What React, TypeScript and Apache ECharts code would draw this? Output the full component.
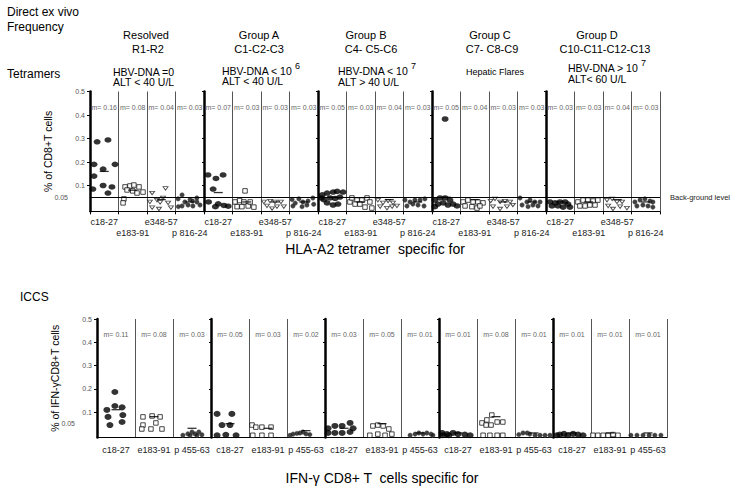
import React, { useEffect, useRef } from 'react';
import * as echarts from 'echarts';

const FONT = '"Liberation Sans", Arial, Helvetica, sans-serif';

// ---------- data ----------
const groups = ['Resolved', 'Group A', 'Group B', 'Group C', 'Group D'];
const groupPatients = ['R1-R2', 'C1-C2-C3', 'C4- C5-C6', 'C7- C8-C9', 'C10-C11-C12-C13'];
const tetEpitopes = ['c18-27', 'e183-91', 'e348-57', 'p 816-24'];
const iccsEpitopes = ['c18-27', 'e183-91', 'p 455-63'];
const yTicks = [0.1, 0.2, 0.3, 0.4, 0.5];
const backgroundLevel = 0.05;

// median value written above each column (m=)
const tetMeans = [0.16, 0.08, 0.04, 0.03, 0.07, 0.03, 0.03, 0.03, 0.05, 0.03, 0.04, 0.03, 0.05, 0.04, 0.03, 0.03, 0.03, 0.03, 0.04, 0.03];
const iccsMeans = [0.11, 0.08, 0.03, 0.05, 0.03, 0.02, 0.03, 0.05, 0.01, 0.01, 0.08, 0.01, 0.01, 0.01, 0.01];

// points per group: [position inside the column 0..1, % of CD8+ T cells]
const tetC18 = [
  [[0.25, 0.286], [0.63, 0.294], [0.14, 0.19], [0.88, 0.19], [0.14, 0.14], [0.46, 0.17], [0.1, 0.085], [0.46, 0.1], [0.63, 0.068], [0.77, 0.094]],
  [[0.14, 0.145], [0.42, 0.13], [0.67, 0.145], [0.32, 0.085], [0.16, 0.03], [0.4, 0.01], [0.5, 0.022], [0.7, 0.015], [0.85, 0.012]],
  [[0.12, 0.047], [0.32, 0.068], [0.53, 0.072], [0.67, 0.075], [0.88, 0.072], [0.42, 0.047], [0.6, 0.045], [0.77, 0.051], [0.32, 0.026], [0.53, 0.017], [0.7, 0.021], [0.2, 0.04], [0.15, 0.06]],
  [[0.46, 0.383], [0.1, 0.038], [0.28, 0.047], [0.46, 0.047], [0.63, 0.038], [0.21, 0.021], [0.39, 0.026], [0.56, 0.017], [0.74, 0.021], [0.1, 0.01], [0.88, 0.013]],
  [[0.14, 0.03], [0.32, 0.026], [0.49, 0.03], [0.67, 0.03], [0.77, 0.021], [0.21, 0.013], [0.42, 0.013], [0.6, 0.008], [0.84, 0.008]],
];
const tetE183 = [
  [[0.23, 0.094], [0.4, 0.098], [0.54, 0.102], [0.72, 0.094], [0.86, 0.072], [0.3, 0.081], [0.5, 0.077], [0.65, 0.068], [0.19, 0.043], [0.16, 0.026]],
  [[0.44, 0.077], [0.09, 0.03], [0.25, 0.036], [0.4, 0.03], [0.16, 0.01], [0.33, 0.01], [0.55, 0.013], [0.62, 0.03], [0.75, 0.008]],
  [[0.12, 0.03], [0.19, 0.047], [0.37, 0.038], [0.54, 0.038], [0.72, 0.047], [0.3, 0.021], [0.47, 0.021], [0.65, 0.008], [0.82, 0.03], [0.89, 0.004]],
  [[0.09, 0.03], [0.26, 0.038], [0.44, 0.03], [0.61, 0.03], [0.79, 0.026], [0.16, 0.013], [0.4, 0.01], [0.58, 0.004], [0.68, 0.013]],
  [[0.12, 0.03], [0.3, 0.038], [0.47, 0.038], [0.65, 0.034], [0.82, 0.038], [0.19, 0.013], [0.37, 0.013], [0.54, 0.017], [0.72, 0.017]],
];
const tetE348 = [
  [[0.18, 0.068], [0.65, 0.088], [0.1, 0.03], [0.35, 0.038], [0.56, 0.047], [0.46, 0.028], [0.18, 0.006], [0.42, 0.0], [0.74, 0.026], [0.84, 0.006]],
  [[0.1, 0.03], [0.32, 0.034], [0.49, 0.03], [0.7, 0.03], [0.21, 0.013], [0.39, 0.002], [0.56, 0.01], [0.8, 0.01]],
  [[0.1, 0.038], [0.28, 0.026], [0.46, 0.034], [0.63, 0.026], [0.18, 0.01], [0.42, 0.004], [0.6, 0.01], [0.77, 0.013]],
  [[0.06, 0.034], [0.21, 0.043], [0.39, 0.03], [0.56, 0.034], [0.74, 0.03], [0.14, 0.01], [0.39, 0.0], [0.63, 0.01], [0.84, 0.017]],
  [[0.14, 0.038], [0.32, 0.043], [0.49, 0.03], [0.67, 0.03], [0.18, 0.013], [0.35, 0.0], [0.6, 0.01], [0.84, 0.004]],
];
const tetP816 = [
  [[0.23, 0.06], [0.09, 0.043], [0.33, 0.03], [0.51, 0.04], [0.75, 0.03], [0.23, 0.013], [0.44, 0.017], [0.61, 0.013], [0.86, 0.017], [0.1, 0.01], [0.75, 0.047], [0.6, 0.034]],
  [[0.09, 0.04], [0.2, 0.025], [0.33, 0.043], [0.47, 0.03], [0.65, 0.034], [0.82, 0.047], [0.12, 0.013], [0.44, 0.01], [0.61, 0.017], [0.85, 0.02]],
  [[0.05, 0.038], [0.23, 0.03], [0.4, 0.038], [0.58, 0.038], [0.75, 0.043], [0.12, 0.013], [0.33, 0.021], [0.51, 0.017], [0.72, 0.013]],
  [[0.09, 0.047], [0.33, 0.03], [0.44, 0.038], [0.61, 0.03], [0.79, 0.03], [0.16, 0.017], [0.37, 0.01], [0.54, 0.017], [0.72, 0.013]],
  [[0.12, 0.03], [0.3, 0.038], [0.47, 0.043], [0.65, 0.034], [0.75, 0.03], [0.19, 0.013], [0.4, 0.017], [0.58, 0.013], [0.75, 0.008]],
];

const iccsC18 = [
  [[0.47, 0.186], [0.47, 0.126], [0.26, 0.109], [0.66, 0.12], [0.29, 0.079], [0.68, 0.087], [0.34, 0.044], [0.66, 0.057]],
  [[0.16, 0.092], [0.55, 0.092], [0.29, 0.044], [0.5, 0.044], [0.39, 0.002], [0.16, 0.0], [0.66, 0.0]],
  [[0.08, 0.03], [0.26, 0.04], [0.45, 0.04], [0.66, 0.053], [0.08, 0.01], [0.26, 0.01], [0.45, 0.01], [0.66, 0.014], [0.74, 0.03]],
  [[0.08, 0.01], [0.21, 0.005], [0.37, 0.01], [0.5, 0.005], [0.68, 0.003], [0.82, 0.0], [0.1, 0.0], [0.26, 0.0]],
  [[0.1, 0.0], [0.18, 0.003], [0.29, 0.006], [0.39, 0.0], [0.53, 0.006], [0.66, 0.003], [0.79, 0.0]],
];
const iccsE183 = [
  [[0.21, 0.079], [0.45, 0.083], [0.66, 0.079], [0.21, 0.044], [0.18, 0.027], [0.42, 0.027], [0.71, 0.027], [0.55, 0.053]],
  [[0.08, 0.044], [0.18, 0.035], [0.34, 0.035], [0.58, 0.035], [0.1, 0.0], [0.34, 0.0], [0.58, 0.0]],
  [[0.26, 0.04], [0.39, 0.044], [0.53, 0.04], [0.68, 0.027], [0.18, 0.0], [0.39, 0.005], [0.58, 0.0], [0.76, 0.005]],
  [[0.39, 0.087], [0.26, 0.066], [0.13, 0.053], [0.24, 0.044], [0.37, 0.044], [0.53, 0.057], [0.68, 0.057], [0.16, 0.0], [0.34, 0.0], [0.53, 0.0], [0.68, 0.0]],
  [[0.05, 0.0], [0.18, 0.0], [0.32, 0.0], [0.45, 0.0], [0.58, 0.003], [0.71, 0.0]],
];
const iccsP455 = [
  [[0.26, 0.0], [0.39, 0.006], [0.5, 0.014], [0.58, 0.006], [0.68, 0.014], [0.76, 0.002], [0.45, 0.0], [0.63, 0.0]],
  [[0.08, 0.0], [0.16, 0.005], [0.26, 0.008], [0.34, 0.01], [0.42, 0.014], [0.5, 0.006], [0.6, 0.003]],
  [[0.24, 0.0], [0.37, 0.005], [0.47, 0.01], [0.58, 0.005], [0.68, 0.01], [0.79, 0.005], [0.84, 0.0]],
  [[0.1, 0.003], [0.21, 0.01], [0.32, 0.01], [0.39, 0.005], [0.53, 0.0], [0.66, 0.0], [0.79, 0.0], [0.92, 0.0]],
  [[0.05, 0.0], [0.21, 0.0], [0.37, 0.0], [0.53, 0.0], [0.68, 0.0], [0.84, 0.0]],
];

// ---------- helpers ----------
const place = (pts: number[][][], ep: number, nEp: number) =>
  pts.flatMap((g, gi) => g.map(([o, v]) => [gi * nEp + ep + o, v]));

const tetCols = groups.flatMap(() => tetEpitopes);
const iccsCols = groups.flatMap(() => iccsEpitopes);

const txt = (text: string, x: number, y: number, size: number, align = 'left', lineHeight?: number) => ({
  type: 'text',
  x,
  y,
  silent: true,
  style: {
    text, fontSize: size, fontFamily: FONT, fill: '#000',
    textAlign: align, textVerticalAlign: 'middle', align, verticalAlign: 'middle',
    ...(lineHeight ? { lineHeight } : {}),
  },
});

const Y_MIN = -0.01;
const Y_MAX = 0.5;

function panelAxes(gridIndex: number, nCols: number, nEp: number, labels: string[], means: number[], name: string, nameGap: number, stagger: boolean, yName: string) {
  const xAxes: any[] = [
    {
      gridIndex, type: 'value', min: 0, max: nCols, interval: 1, position: 'bottom',
      axisLine: { onZero: false, lineStyle: { color: '#000', width: 1 } },
      axisTick: { show: stagger, length: 3, lineStyle: { color: '#000' } },
      axisLabel: { show: false },
      splitLine: { show: true, lineStyle: { color: '#555', width: 1 } },
    },
    {
      gridIndex, type: 'category', data: labels, position: 'bottom', boundaryGap: true,
      axisLine: { show: false, onZero: false }, axisTick: { show: false }, splitLine: { show: false },
      axisLabel: {
        interval: 0, fontSize: 9, color: '#222', fontFamily: FONT, lineHeight: 11,
        margin: stagger ? 5 : 7,
        formatter: (v: string, i: number) => (stagger && i % 2 === 1 ? '\n' + v : v),
      },
      name, nameLocation: 'middle', nameGap,
      nameTextStyle: { fontSize: 14, color: '#000', fontFamily: FONT },
    },
    {
      gridIndex, type: 'category', data: means.map((m) => 'm= ' + m.toFixed(2)), position: 'top', boundaryGap: true,
      axisLine: { show: false, onZero: false }, axisTick: { show: false }, splitLine: { show: false },
      axisLabel: { interval: 0, inside: true, margin: 12, fontSize: 7, color: '#666', fontFamily: FONT },
    },
  ];
  const yAxes: any[] = [
    {
      gridIndex, type: 'value', min: Y_MIN, max: Y_MAX, position: 'left',
      axisLine: { show: true, onZero: false, lineStyle: { color: '#000', width: 2.5 } },
      axisTick: { show: true, customValues: yTicks, length: 3, lineStyle: { color: '#000' } },
      axisLabel: { customValues: yTicks, fontSize: 7, color: '#555', margin: 5, fontFamily: FONT, formatter: (v: number) => String(v) },
      splitLine: { show: false },
      name: yName, nameLocation: 'middle', nameGap: 37,
      nameTextStyle: { fontSize: 10.5, color: '#000', fontFamily: FONT },
    },
    {
      gridIndex, type: 'value', min: Y_MIN, max: Y_MAX, position: 'left',
      axisLine: { show: false, onZero: false }, axisTick: { show: false }, splitLine: { show: false },
      axisLabel: { customValues: [backgroundLevel], fontSize: 7, color: '#555', margin: 22, fontFamily: FONT, formatter: (v: number) => String(v) },
    },
  ];
  const colW = 570 / nCols;
  for (let g = 1; g < groups.length; g++) {
    yAxes.push({
      gridIndex, type: 'value', min: Y_MIN, max: Y_MAX, position: 'left', offset: -g * nEp * colW,
      axisLine: { show: true, onZero: false, lineStyle: { color: '#000', width: 2.5 } },
      axisTick: { show: true, customValues: yTicks, length: 2, lineStyle: { color: '#000' } },
      axisLabel: { show: false }, splitLine: { show: false },
    });
  }
  return { xAxes, yAxes };
}

export default function App() {
  const ref = useRef<HTMLDivElement>(null);
  useEffect(() => {
    if (!ref.current) return;
    const chart = echarts.init(ref.current, null, { renderer: 'svg' });

    const top = panelAxes(0, 20, 4, tetCols, tetMeans, 'HLA-A2 tetramer  specific for', 31, true, '% of CD8+T cells');
    const bot = panelAxes(1, 15, 3, iccsCols, iccsMeans, 'IFN-γ CD8+ T  cells specific for', 33, false, '% of IFN-γCD8+T cells');
    const xAxis = [...top.xAxes, ...bot.xAxes];
    const yAxis = [...top.yAxes, ...bot.yAxes];
    const botX = top.xAxes.length;
    const botY = top.yAxes.length;

    const big = { symbol: 'circle', symbolSize: [7, 5.5], itemStyle: { color: '#000' } };
    const square = { symbol: 'rect', symbolSize: 4.5, itemStyle: { color: '#fff', borderColor: '#000', borderWidth: 0.9 } };
    const tri = { symbol: 'triangle', symbolRotate: 180, symbolSize: [5, 3.5], itemStyle: { color: '#fff', borderColor: '#222', borderWidth: 0.9 } };
    const small = { symbol: 'circle', symbolSize: 4.5, itemStyle: { color: '#111', borderColor: '#555', borderWidth: 0.5 } };
    const bar = { symbol: 'rect', symbolSize: [9, 1.3], itemStyle: { color: '#000' } };

    const mk = (name: string, style: any, data: number[][], xi: number, yi: number, extra: any = {}) => ({
      type: 'scatter', name, xAxisIndex: xi, yAxisIndex: yi, data, silent: true, z: 3, ...style, ...extra,
    });

    const series: any[] = [
      mk('tet c18-27', big, place(tetC18, 0, 4), 0, 0, {
        markLine: {
          silent: true, symbol: 'none', animation: false,
          lineStyle: { color: '#000', width: 1, type: 'solid' },
          label: { show: true, position: 'end', distance: 10, formatter: 'Back-ground level', fontSize: 7.5, color: '#222', fontFamily: FONT },
          data: [{ yAxis: backgroundLevel }],
        },
      }),
      mk('tet e183-91', square, place(tetE183, 1, 4), 0, 0),
      mk('tet e348-57', tri, place(tetE348, 2, 4), 0, 0),
      mk('tet p816-24', small, place(tetP816, 3, 4), 0, 0),
      mk('tet m', bar, tetMeans.map((m, i) => [i + 0.5, m]), 0, 0, { z: 4 }),
      mk('iccs c18-27', { ...big, symbolSize: [7, 6] }, place(iccsC18, 0, 3), botX, botY),
      mk('iccs e183-91', square, place(iccsE183, 1, 3), botX, botY),
      mk('iccs p455-63', { ...small, symbolSize: 4.5 }, place(iccsP455, 2, 3), botX, botY),
      mk('iccs m', bar, iccsMeans.map((m, i) => [i + 0.5, m]), botX, botY, { z: 4 }),
    ];

    const headerX = [146, 259, 366, 490, 597];
    const headerX2 = [148, 259, 371, 492, 605];
    const graphic: any[] = [
      txt('Direct ex vivo', 7, 12, 12),
      txt('Frequency', 7, 27, 12),
      txt('Tetramers', 7, 74, 12),
      txt('ICCS', 20, 297, 12),
      ...groups.map((g, i) => txt(g, headerX[i], 35, 11, 'center')),
      ...groupPatients.map((g, i) => txt(g, headerX2[i], 49, 11, 'center')),
      txt('HBV-DNA =0\nALT < 40 U/L', 113, 77, 10.5, 'left', 10.6),
      txt('HBV-DNA < 10\nALT < 40 U/L', 222, 76, 10.5, 'left', 10.6),
      txt('6', 295, 66, 9),
      txt('HBV-DNA < 10\nALT > 40 U/L', 338, 76.5, 10.5, 'left', 10.6),
      txt('7', 411, 66, 9),
      txt('Hepatic Flares', 466, 72, 9),
      txt('HBV-DNA > 10\nALT< 60 U/L', 568, 73.5, 10.5, 'left', 10.6),
      txt('7', 641, 63, 9),
    ];

    chart.setOption({
      animation: false,
      backgroundColor: '#fff',
      textStyle: { fontFamily: FONT },
      grid: [
        { left: 90, top: 91.5, width: 570, height: 119.85 },
        { left: 97, top: 319, width: 570, height: 118.6 },
      ],
      xAxis,
      yAxis,
      series,
      graphic,
    });
    return () => chart.dispose();
  }, []);
  return <div ref={ref} style={{ position: 'fixed', left: 0, top: 0, width: 736, height: 491, background: '#fff' }} />;
}
